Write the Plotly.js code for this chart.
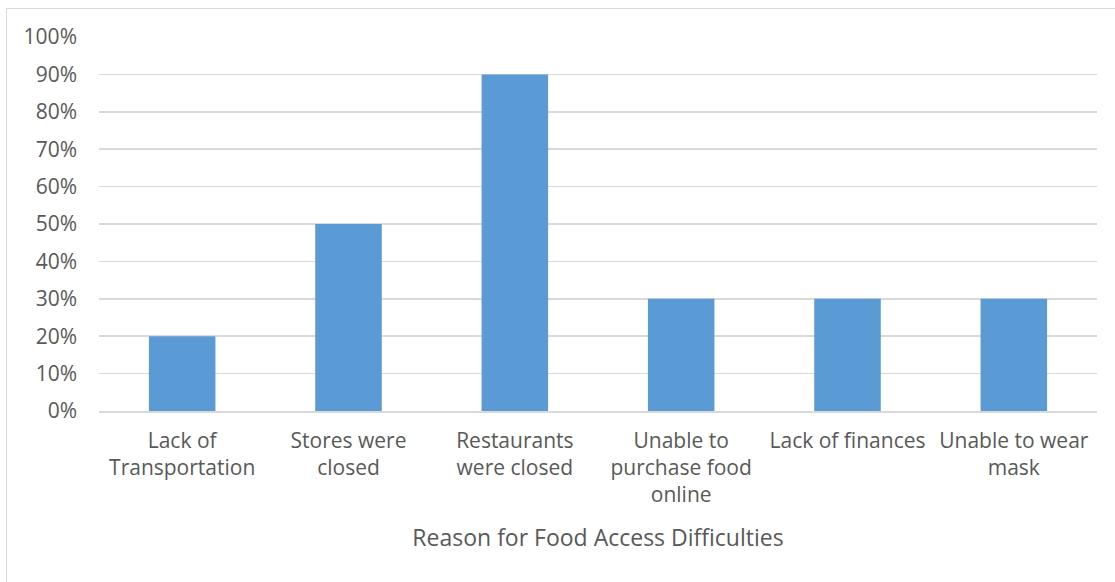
<!DOCTYPE html>
<html>
<head>
<meta charset="utf-8">
<script src="https://cdn.plot.ly/plotly-3.0.1.min.js"></script>
<style>
html,body{margin:0;padding:0;background:#fff;}
#frame{position:absolute;left:6px;top:8px;width:1200px;height:700px;border:1px solid #d9d9d9;box-sizing:border-box;}
#chart{position:absolute;left:0;top:0;width:1115px;height:582px;}
</style>
</head>
<body>
<div id="frame"></div>
<div id="chart"></div>
<script>
const categories = [
  "Lack of<br>Transportation",
  "Stores were<br>closed",
  "Restaurants<br>were closed",
  "Unable to<br>purchase food<br>online",
  "Lack of finances",
  "Unable to wear<br>mask"
];
const values = [0.20, 0.50, 0.90, 0.30, 0.30, 0.30];
const xTitle = "Reason for Food Access Difficulties";

const font = "Open Sans, Liberation Sans, sans-serif";
const trace = {
  type: "bar",
  x: categories,
  y: values,
  marker: {color: "#5b9bd5"},
  hoverinfo: "x+y"
};
const layout = {
  width: 1115, height: 582,
  margin: {l: 99, r: 18, t: 37, b: 171, pad: 0},
  paper_bgcolor: "rgba(0,0,0,0)",
  plot_bgcolor: "rgba(0,0,0,0)",
  bargap: 0.6,
  showlegend: false,
  font: {family: font, color: "#595959", size: 20},
  xaxis: {
    type: "category",
    showgrid: false,
    showline: true, linecolor: "#d9d9d9", linewidth: 1.5,
    ticks: "outside", ticklen: 10, tickcolor: "rgba(0,0,0,0)",
    tickfont: {size: 21, color: "#595959"},
    title: {text: xTitle, font: {size: 23, color: "#595959"}, standoff: 22},
    automargin: false
  },
  yaxis: {
    range: [0, 1],
    dtick: 0.1,
    tickformat: ".0%",
    showgrid: true, gridcolor: "#d9d9d9", gridwidth: 1.5,
    zeroline: false,
    showline: false,
    tickfont: {size: 21, color: "#595959"},
    ticklabelstandoff: 21,
    automargin: false
  }
};
Plotly.newPlot("chart", [trace], layout, {displayModeBar: false, staticPlot: true});
</script>
</body>
</html>
